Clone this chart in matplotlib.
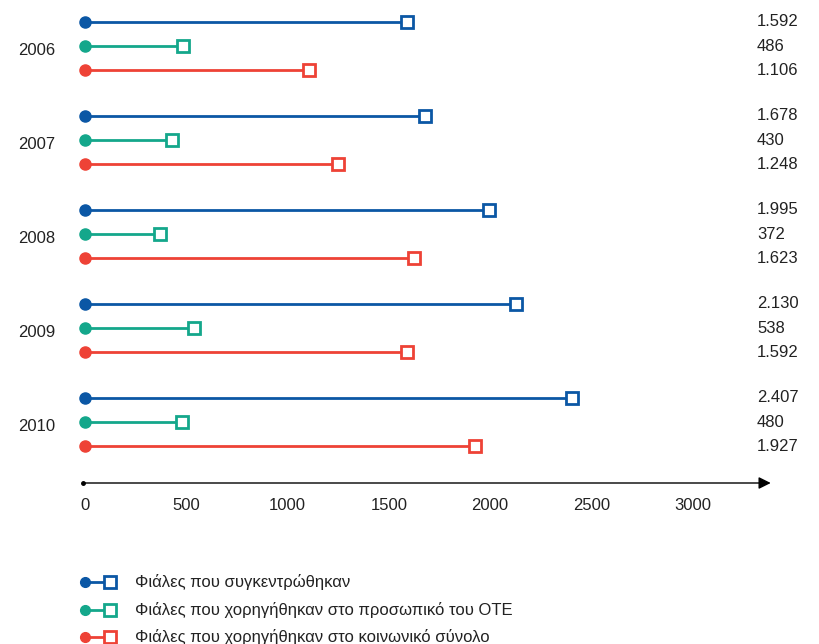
import matplotlib.pyplot as plt

years = ['2006', '2007', '2008', '2009', '2010']
collected = [1592, 1678, 1995, 2130, 2407]
ote_staff = [486, 430, 372, 538, 480]
society = [1106, 1248, 1623, 1592, 1927]

series = [collected, ote_staff, society]
labels = ['Φιάλες που συγκεντρώθηκαν',
          'Φιάλες που χορηγήθηκαν στο προσωπικό του ΟΤΕ',
          'Φιάλες που χορηγήθηκαν στο κοινωνικό σύνολο']
colors = ['#0b57a5', '#14a78b', '#ee4236']
xticks = [0, 500, 1000, 1500, 2000, 2500, 3000]

plt.rcParams['font.family'] = ['Liberation Sans', 'DejaVu Sans']
txt_color = '#222222'

fig = plt.figure(figsize=(8.2, 6.44), dpi=100)
ax = fig.add_axes([0, 0, 1, 1])
# pixel-like layout: x=0 at 85px, 0.2025 px per unit; one y unit = 24.1 px, row 0 at 22px
px = 0.2025
ax.set_xlim(-85 / px, (820 - 85) / px)
ax.set_ylim((644 - 22) / 24.1, -22 / 24.1)
ax.axis('off')

def fmt(v):
    return f'{v:,}'.replace(',', '.')

group_gap = 3.9
for i, yr in enumerate(years):
    for j, (vals, c) in enumerate(zip(series, colors)):
        y = i * group_gap + j
        ax.plot([0, vals[i]], [y, y], color=c, lw=2, solid_capstyle='butt', zorder=2)
        ax.plot(0, y, 'o', color=c, ms=8, zorder=3)
        ax.plot(vals[i], y, 's', mfc='white', mec=c, mew=2, ms=8.5, zorder=3)
        ax.text((757 - 85) / px, y, fmt(vals[i]), fontsize=12, color=txt_color,
                ha='left', va='center')
    # year label sits a little below the middle row
    ax.text(-67 / px, i * group_gap + 1.18, yr, fontsize=12, color=txt_color,
            ha='left', va='center')

# x axis with arrow
y_axis = (483 - 22) / 24.1
ax.annotate('', xy=(3400, y_axis), xytext=(-12, y_axis),
            arrowprops=dict(arrowstyle='-|>', color='black', lw=1, mutation_scale=18))
ax.plot(-12, y_axis, 'o', color='black', ms=2.5)
for t in xticks:
    ax.text(t, y_axis + 0.92, str(t), fontsize=12, color=txt_color,
            ha='center', va='center')

# legend
leg_rows = [(582 - 22) / 24.1, (610 - 22) / 24.1, (637 - 22) / 24.1]
for ly, lab, c in zip(leg_rows, labels, colors):
    ax.plot([0, 125], [ly, ly], color=c, lw=2, zorder=2)
    ax.plot(0, ly, 'o', color=c, ms=7, zorder=3)
    ax.plot(125, ly, 's', mfc='white', mec=c, mew=2, ms=8, zorder=3)
    ax.text((135 - 85) / px, ly, lab, fontsize=12, color=txt_color,
            ha='left', va='center')

fig.savefig('out.png', dpi=100)
